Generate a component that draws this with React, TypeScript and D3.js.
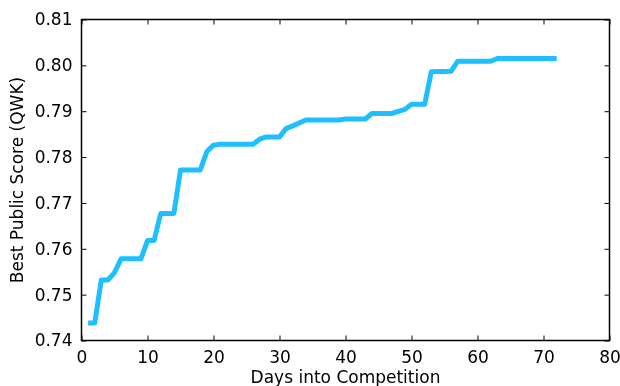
import React, { useRef, useEffect } from "react";
import * as d3 from "d3";

// best public score per competition day
const days = [1, 2, 3, 4, 5, 6, 9, 10, 11, 12, 14, 15, 18, 19, 20, 21, 26, 27, 28, 30, 31, 32, 34, 39, 40, 43, 44, 47, 49, 50, 52, 53, 56, 57, 62, 63, 72];
const scores = [0.7438, 0.7438, 0.7532, 0.7532, 0.7548, 0.7578, 0.7578, 0.7618, 0.7618, 0.7677, 0.7677, 0.7772, 0.7772, 0.7812, 0.7826, 0.7828, 0.7828, 0.7839, 0.7844, 0.7844, 0.7862, 0.7868, 0.7881, 0.7881, 0.7883, 0.7883, 0.7895, 0.7895, 0.7904, 0.7915, 0.7915, 0.7986, 0.7987, 0.8009, 0.8009, 0.8015, 0.8015];
const xTicks = [0, 10, 20, 30, 40, 50, 60, 70, 80];
const yTicks = [0.74, 0.75, 0.76, 0.77, 0.78, 0.79, 0.8, 0.81];

const App = () => {
  const svgRef = useRef(null);

  useEffect(() => {
    const width = 620;
    const height = 386;
    const margin = { top: 19.5, right: 10.5, bottom: 45.5, left: 81.5 };
    const innerW = width - margin.left - margin.right;
    const innerH = height - margin.top - margin.bottom;
    const font = "'DejaVu Sans', sans-serif";

    const svg = d3.select(svgRef.current);
    svg.selectAll("*").remove();

    const g = svg.append("g").attr("transform", `translate(${margin.left}, ${margin.top})`);

    const x = d3.scaleLinear().domain([0, 80]).range([0, innerW]);
    const y = d3.scaleLinear().domain([0.74, 0.81]).range([innerH, 0]);

    const data = days.map((d, i) => ({ day: d, score: scores[i] }));

    // clip so the line stays inside the frame
    svg.append("defs").append("clipPath").attr("id", "plot-clip")
      .append("rect").attr("width", innerW).attr("height", innerH);

    const line = d3.line().x((d) => x(d.day)).y((d) => y(d.score));
    g.append("path")
      .datum(data)
      .attr("clip-path", "url(#plot-clip)")
      .attr("fill", "none")
      .attr("stroke", "#1fbfff")
      .attr("stroke-width", 5)
      .attr("stroke-linejoin", "round")
      .attr("d", line);

    // axes: inward ticks on all four sides, matplotlib style
    const styleAxis = (sel) => {
      sel.select(".domain").remove();
      sel.selectAll("line").attr("stroke", "#000").attr("stroke-width", 1);
      sel.selectAll("text").attr("font-family", font).attr("font-size", 17).attr("fill", "#000");
    };

    g.append("g")
      .attr("transform", `translate(0, ${innerH})`)
      .call(d3.axisBottom(x).tickValues(xTicks).tickSizeInner(-5).tickSizeOuter(0).tickPadding(10).tickFormat(d3.format("d")))
      .call(styleAxis);

    g.append("g")
      .call(d3.axisTop(x).tickValues(xTicks).tickSizeInner(-5).tickSizeOuter(0).tickFormat(() => ""))
      .call(styleAxis);

    g.append("g")
      .call(d3.axisLeft(y).tickValues(yTicks).tickSizeInner(-5).tickSizeOuter(0).tickPadding(9).tickFormat(d3.format(".2f")))
      .call(styleAxis);

    g.append("g")
      .attr("transform", `translate(${innerW}, 0)`)
      .call(d3.axisRight(y).tickValues(yTicks).tickSizeInner(-5).tickSizeOuter(0).tickFormat(() => ""))
      .call(styleAxis);

    // frame
    g.append("rect")
      .attr("width", innerW)
      .attr("height", innerH)
      .attr("fill", "none")
      .attr("stroke", "#000")
      .attr("stroke-width", 1.5);

    svg.append("text")
      .attr("x", margin.left + innerW / 2)
      .attr("y", 383)
      .attr("text-anchor", "middle")
      .attr("font-family", font)
      .attr("font-size", 17)
      .text("Days into Competition");

    svg.append("text")
      .attr("transform", `translate(23, ${margin.top + innerH / 2}) rotate(-90)`)
      .attr("text-anchor", "middle")
      .attr("font-family", font)
      .attr("font-size", 17)
      .text("Best Public Score (QWK)");
  }, []);

  return (
    <div style={{ position: "fixed", left: 0, top: 0 }}>
      <svg ref={svgRef} width={620} height={386} style={{ display: "block" }}></svg>
    </div>
  );
};

export default App;
